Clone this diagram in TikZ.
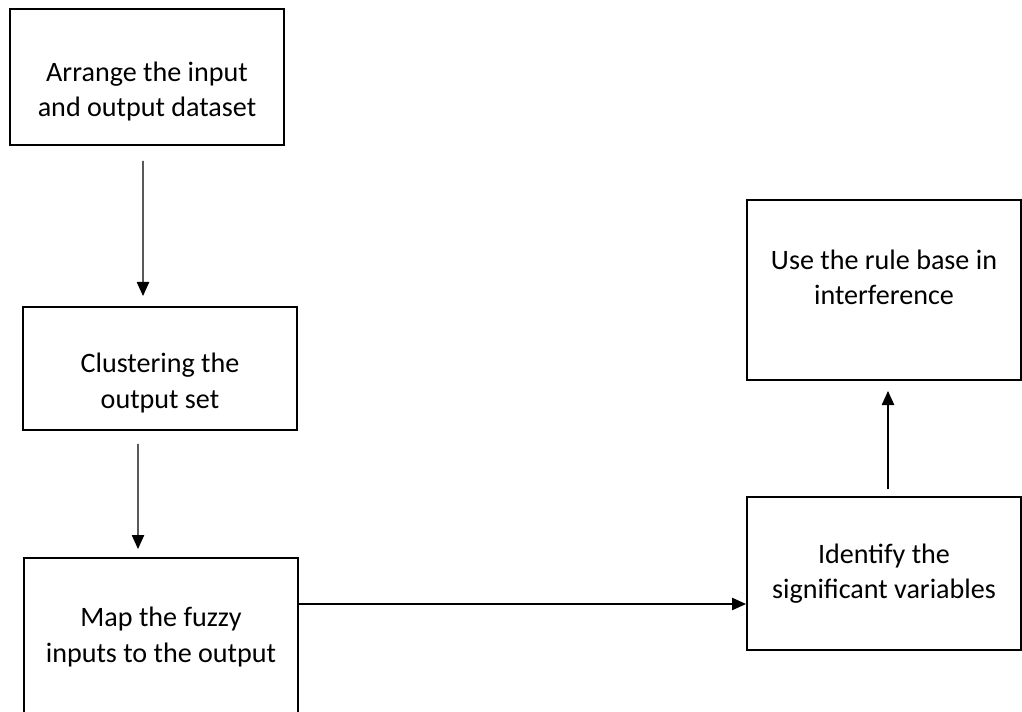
\documentclass[tikz,border=0pt]{standalone}
\usepackage{fontspec}
\setmainfont{Carlito}
\usetikzlibrary{arrows.meta}

\begin{document}
\begin{tikzpicture}[x=0.02cm,y=-0.02cm,
    stepbox/.style={shape=rectangle,draw=black,line width=1.1pt,minimum width=5.48cm,align=center,font=\fontsize{16}{20}\selectfont,text=black},
    flow/.style={-{Triangle[length=8pt,width=7pt]},line width=0.8pt}]
    \useasboundingbox (0,0) rectangle (1022,711);
    \clip (0,0) rectangle (1022,711);

    \node[stepbox,minimum height=2.72cm,text height=48pt,text depth=3pt] (arrange) at (147,77) {Arrange the input\\and output dataset};
    \node[stepbox,minimum height=2.46cm,text height=48pt,text depth=3pt] (cluster) at (160,368.5) {Clustering the\\output set};
    \node[stepbox,minimum height=3.16cm] (map) at (161,637) {Map the fuzzy\\inputs to the output};
    \node[stepbox,minimum height=3.06cm] (identify) at (884,573.5) {Identify the\\significant variables};
    \node[stepbox,minimum height=3.6cm,text height=19.6pt,text depth=3pt] (rulebase) at (884,290) {Use the rule base in\\interference};

    \path [flow]([xshift=-0.08cm]arrange.south) edge[shorten <=0.3cm,shorten >=0.2cm] ([xshift=-0.34cm]cluster.north);
    \path [flow]([xshift=-0.44cm]cluster.south) edge[shorten <=0.26cm,shorten >=0.16cm] ([xshift=-0.46cm]map.north);
    \path [flow]([yshift=-0.61cm]identify.west -| map.east) edge ([yshift=-0.61cm]identify.west);
    \path [flow]([xshift=0.08cm]identify.north) edge[shorten <=0.14cm,shorten >=0.2cm] ([xshift=0.08cm]rulebase.south);
\end{tikzpicture}
\end{document}
